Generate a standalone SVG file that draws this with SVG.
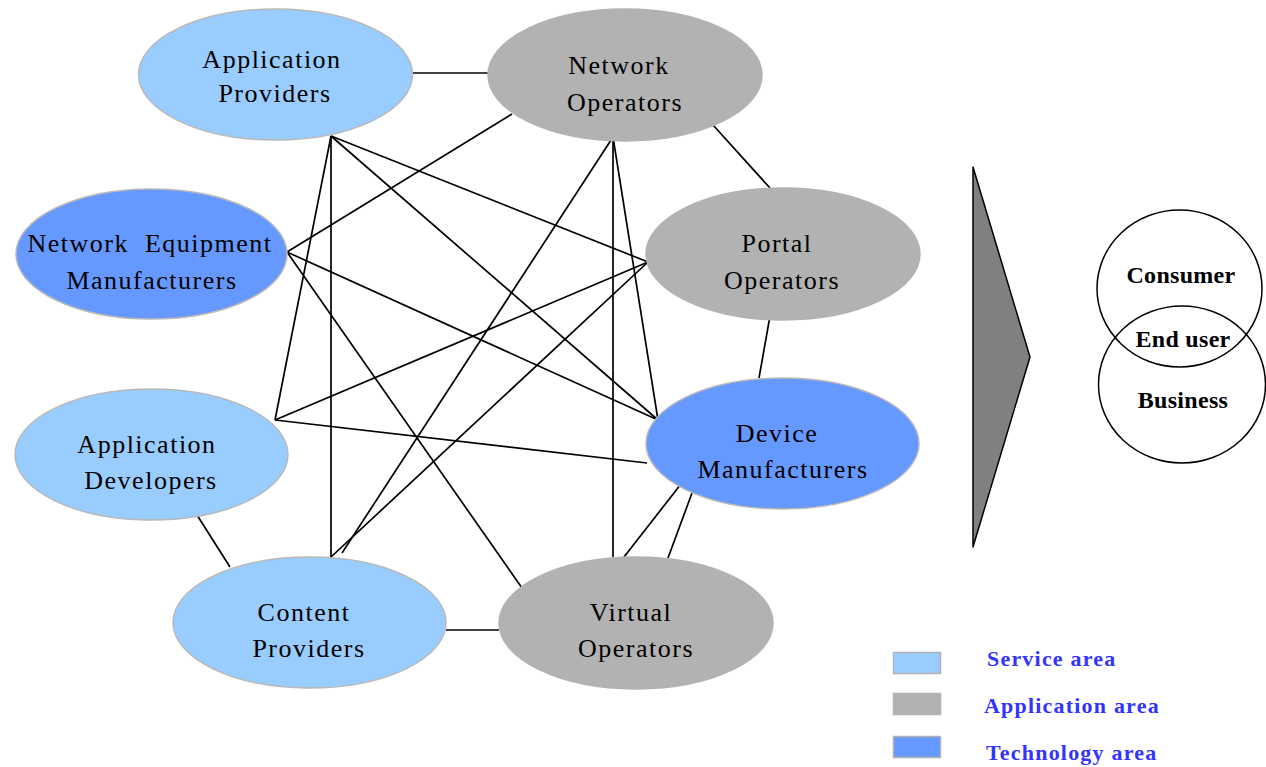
<svg xmlns="http://www.w3.org/2000/svg" width="1266" height="767" viewBox="0 0 1266 767">
<style>
.svc{fill:#99ccff;stroke:#b8b8b8;stroke-width:1.5}
.tech{fill:#6699ff;stroke:#b8b8b8;stroke-width:1.5}
.app{fill:#b2b2b2;stroke:#b2b2b2;stroke-width:1.5}
.lbl{font-family:"Liberation Serif","Times New Roman",serif;font-size:26px;letter-spacing:1.5px;fill:#000;text-anchor:middle}
.eu{font-family:"Liberation Serif","Times New Roman",serif;font-size:24px;font-weight:bold;letter-spacing:0.3px;fill:#000;text-anchor:middle}
.leg{font-family:"Liberation Serif","Times New Roman",serif;font-size:22px;font-weight:bold;letter-spacing:1.2px;fill:#3333ff}
#connectors line{stroke:#000;stroke-width:1.7}
</style>
<rect width="1266" height="767" fill="#fff"/>
<g id="connectors">
<line x1="412" y1="73" x2="488" y2="73"/>
<line x1="713" y1="125" x2="770" y2="188"/>
<line x1="770" y1="316" x2="759" y2="378"/>
<line x1="197" y1="515" x2="230" y2="567"/>
<line x1="446" y1="630" x2="499" y2="630"/>
<line x1="681" y1="484" x2="624" y2="557"/>
<line x1="692" y1="493" x2="668" y2="558"/>
<line x1="331" y1="136" x2="275" y2="420"/>
<line x1="331" y1="136" x2="331" y2="557"/>
<line x1="331" y1="136" x2="648" y2="262"/>
<line x1="331" y1="136" x2="658" y2="420"/>
<line x1="287" y1="252" x2="512" y2="114"/>
<line x1="287" y1="252" x2="658" y2="420"/>
<line x1="287" y1="252" x2="522" y2="588"/>
<line x1="613" y1="137" x2="342" y2="553"/>
<line x1="613" y1="137" x2="613" y2="557"/>
<line x1="613" y1="137" x2="658" y2="420"/>
<line x1="648" y1="262" x2="275" y2="420"/>
<line x1="648" y1="262" x2="331" y2="557"/>
<line x1="275" y1="420" x2="647" y2="463"/>
</g>
<g id="application-providers">
<ellipse class="svc" cx="275.5" cy="74.5" rx="137" ry="65.5"/>
<text class="lbl" x="272" y="68">Application</text>
<text class="lbl" x="275" y="102">Providers</text>
</g>
<g id="network-operators">
<ellipse class="app" cx="625" cy="75" rx="137" ry="66"/>
<text class="lbl" x="619" y="74">Network</text>
<text class="lbl" x="625" y="111">Operators</text>
</g>
<g id="network-equipment-manufacturers">
<ellipse class="tech" cx="151.5" cy="254" rx="135.5" ry="65"/>
<text class="lbl" x="150" y="252" word-spacing="8">Network Equipment</text>
<text class="lbl" x="152" y="289">Manufacturers</text>
</g>
<g id="portal-operators">
<ellipse class="app" cx="783" cy="254" rx="137" ry="66"/>
<text class="lbl" x="777" y="252">Portal</text>
<text class="lbl" x="782" y="289">Operators</text>
</g>
<g id="application-developers">
<ellipse class="svc" cx="151.5" cy="454.5" rx="136.5" ry="65.5"/>
<text class="lbl" x="147" y="453">Application</text>
<text class="lbl" x="151" y="489">Developers</text>
</g>
<g id="device-manufacturers">
<ellipse class="tech" cx="782.5" cy="443.5" rx="136.5" ry="65.5"/>
<text class="lbl" x="777" y="442">Device</text>
<text class="lbl" x="783" y="478">Manufacturers</text>
</g>
<g id="content-providers">
<ellipse class="svc" cx="309.5" cy="622.5" rx="136.5" ry="65.5"/>
<text class="lbl" x="304" y="621">Content</text>
<text class="lbl" x="309" y="657">Providers</text>
</g>
<g id="virtual-operators">
<ellipse class="app" cx="636" cy="623" rx="137" ry="66"/>
<text class="lbl" x="631" y="621">Virtual</text>
<text class="lbl" x="636" y="657">Operators</text>
</g>
<g id="arrow">
<polygon points="973,167 1030,357 973,547" fill="#808080" stroke="#000" stroke-width="1.5" stroke-linejoin="round"/>
</g>
<g id="end-user">
<ellipse cx="1179.5" cy="288.5" rx="82.5" ry="78.5" fill="none" stroke="#000" stroke-width="1.5"/>
<ellipse cx="1182" cy="384.5" rx="83.5" ry="78.5" fill="none" stroke="#000" stroke-width="1.5"/>
<text class="eu" x="1181" y="283">Consumer</text>
<text class="eu" x="1183" y="347">End user</text>
<text class="eu" x="1183" y="408">Business</text>
</g>
<g id="legend">
<rect x="893.5" y="652.5" width="47" height="21" fill="#99ccff" stroke="#b2b2b2" stroke-width="1.5"/>
<rect x="893.5" y="693.5" width="47" height="21" fill="#b2b2b2" stroke="#b2b2b2" stroke-width="1.5"/>
<rect x="893.5" y="736.5" width="47" height="21" fill="#6699ff" stroke="#b2b2b2" stroke-width="1.5"/>
<text class="leg" x="987" y="666">Service area</text>
<text class="leg" x="984" y="713">Application area</text>
<text class="leg" x="986" y="760">Technology area</text>
</g>
</svg>
